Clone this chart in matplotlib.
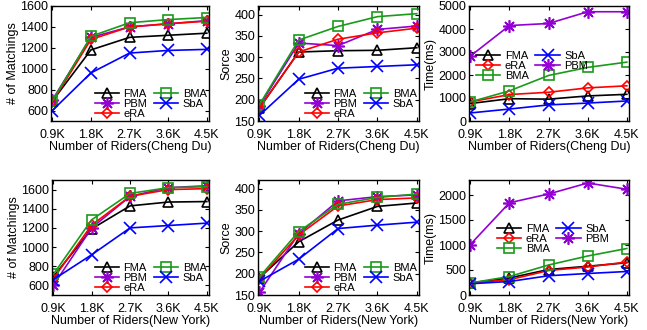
import matplotlib.pyplot as plt
import numpy as np

plt.rcParams['font.family'] = ['Liberation Sans', 'DejaVu Sans']
plt.rcParams['font.size'] = 8.5

riders = [0.9, 1.8, 2.7, 3.6, 4.5]
xticklabels = ['0.9K', '1.8K', '2.7K', '3.6K', '4.5K']

# Cheng Du
cd_match = {
    'FMA': [690, 1180, 1300, 1320, 1340],
    'PBM': [700, 1300, 1400, 1430, 1460],
    'eRA': [680, 1280, 1400, 1430, 1455],
    'BMA': [690, 1310, 1440, 1470, 1490],
    'SbA': [600, 960, 1150, 1175, 1185],
}
cd_score = {
    'FMA': [180, 312, 315, 316, 322],
    'PBM': [185, 333, 327, 365, 373],
    'eRA': [180, 312, 342, 357, 368],
    'BMA': [188, 340, 372, 395, 402],
    'SbA': [163, 248, 274, 278, 282],
}
cd_time = {
    'FMA': [760, 970, 950, 1090, 1160],
    'eRA': [830, 1150, 1250, 1440, 1530],
    'BMA': [830, 1310, 1980, 2330, 2560],
    'SbA': [350, 520, 700, 780, 870],
    'PBM': [2820, 4150, 4240, 4750, 4750],
}
# New York
ny_match = {
    'FMA': [690, 1190, 1430, 1470, 1475],
    'PBM': [600, 1200, 1530, 1620, 1640],
    'eRA': [670, 1230, 1530, 1600, 1610],
    'BMA': [715, 1285, 1560, 1620, 1630],
    'SbA': [660, 920, 1200, 1225, 1250],
}
ny_score = {
    'FMA': [190, 275, 326, 358, 366],
    'PBM': [156, 294, 371, 381, 385],
    'eRA': [188, 291, 359, 374, 378],
    'BMA': [192, 299, 363, 379, 387],
    'SbA': [182, 234, 306, 314, 321],
}
ny_time = {
    'FMA': [240, 340, 510, 575, 645],
    'eRA': [240, 305, 490, 560, 660],
    'BMA': [240, 370, 600, 780, 930],
    'SbA': [225, 270, 385, 430, 470],
    'PBM': [1010, 1845, 2020, 2240, 2115],
}

style = {
    'FMA': dict(color='black', marker='^', ms=7),
    'PBM': dict(color='#9400D3', marker=(8, 2, 0), ms=9),
    'eRA': dict(color='red', marker='D', ms=5),
    'BMA': dict(color='#1a9a1a', marker='s', ms=7),
    'SbA': dict(color='blue', marker='x', ms=8),
}

W, H = 647, 330
fig = plt.figure(figsize=(W / 100, H / 100), dpi=100)


def make_ax(l, r, t, b):
    return fig.add_axes([l / W, (H - b) / H, (r - l) / W, (b - t) / H])


panels = [
    (make_ax(51, 209, 6, 121), cd_match, (500, 1600), [600, 800, 1000, 1200, 1400, 1600],
     '# of Matchings', 'Number of Riders(Cheng Du)', 'lr'),
    (make_ax(258, 419, 6, 121), cd_score, (150, 420), [150, 200, 250, 300, 350, 400],
     'Sorce', 'Number of Riders(Cheng Du)', 'lr'),
    (make_ax(469, 629, 6, 121), cd_time, (0, 5000), [0, 1000, 2000, 3000, 4000, 5000],
     'Time(ms)', 'Number of Riders(Cheng Du)', (0.03, 0.63)),
    (make_ax(52, 209, 180, 295), ny_match, (500, 1700), [600, 800, 1000, 1200, 1400, 1600],
     '# of Matchings', 'Number of Riders(New York)', 'lr'),
    (make_ax(258, 419, 180, 295), ny_score, (150, 420), [150, 200, 250, 300, 350, 400],
     'Sorce', 'Number of Riders(New York)', 'lr'),
    (make_ax(469, 629, 180, 295), ny_time, (0, 2300), [0, 500, 1000, 1500, 2000],
     'Time(ms)', 'Number of Riders(New York)', (0.16, 0.64)),
]

for ax, data, ylim, yticks, ylabel, xlabel, leg in panels:
    for name, vals in data.items():
        s = style[name]
        ax.plot(riders, vals, color=s['color'], marker=s['marker'], ms=s['ms'],
                mfc='none', mec=s['color'], mew=1.2, lw=1.2, label=name)
    ax.set_xlim(0.87, 4.55)
    ax.set_ylim(*ylim)
    ax.set_xticks(riders)
    ax.set_xticklabels(xticklabels)
    ax.set_yticks(yticks)
    ax.tick_params(direction='in', top=True, right=True, length=3, labelsize=9)
    ax.tick_params(axis='x', pad=6)
    ax.tick_params(axis='y', pad=2)
    ax.set_ylabel(ylabel, fontsize=9, labelpad=1)
    ax.set_xlabel(xlabel, fontsize=9, labelpad=0)
    for sp in ax.spines.values():
        sp.set_linewidth(1.0)
    kw = dict(ncol=2, frameon=False, fontsize=8, handlelength=2.2, handletextpad=0.4,
              columnspacing=0.6, labelspacing=0.0, borderpad=0.1, borderaxespad=0.1)
    if leg == 'lr':
        ax.legend(loc='lower right', **kw)
    else:
        ax.legend(loc='upper left', bbox_to_anchor=leg, **kw)

fig.savefig('out.png', dpi=100)
